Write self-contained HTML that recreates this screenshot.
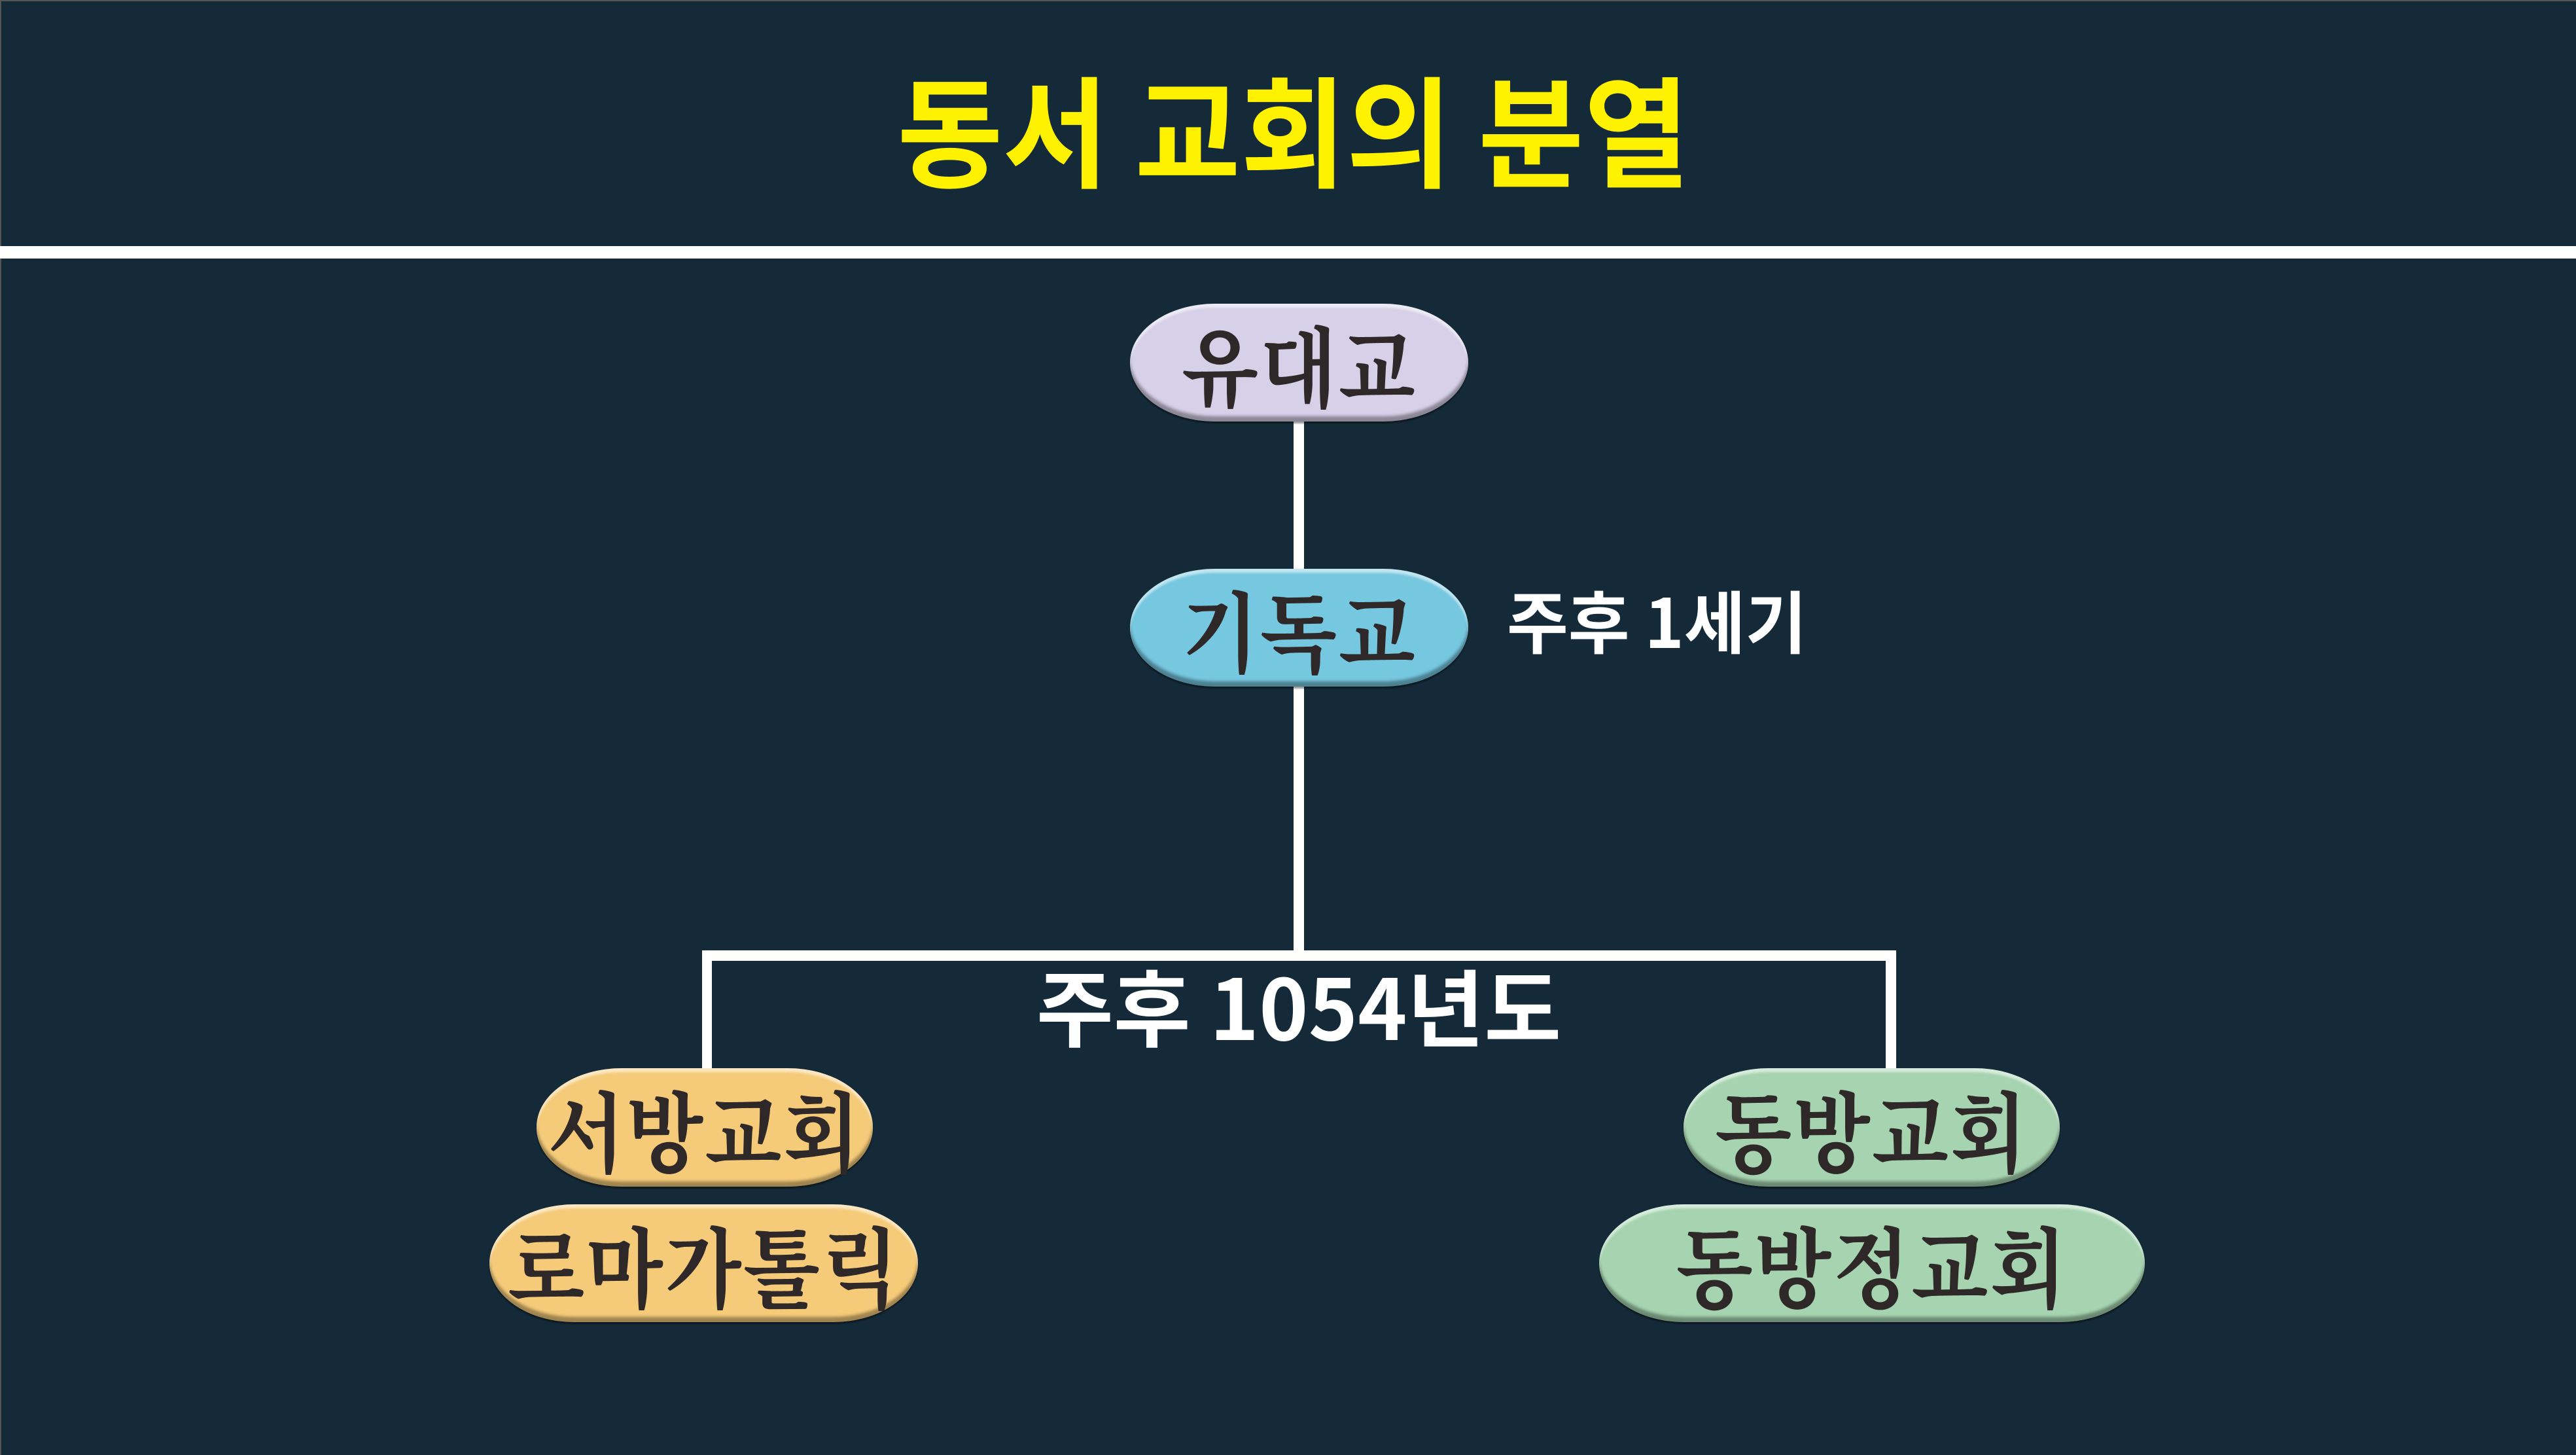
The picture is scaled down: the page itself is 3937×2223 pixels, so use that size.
<!DOCTYPE html>
<html><head><meta charset="utf-8"><style>
html,body{margin:0;padding:0}
body{width:3937px;height:2223px;background:#152a38;position:relative;overflow:hidden;font-family:"Liberation Sans","Noto Sans CJK KR",sans-serif}
.a{position:absolute}
.line{position:absolute;background:#fff}
.box{position:absolute;box-sizing:border-box;border-radius:130px/90px;display:flex;align-items:center;justify-content:center;
font-family:"Noto Serif CJK KR","Noto Serif CJK SC",serif;font-weight:700;font-size:122px;color:#2f2828;
box-shadow:inset 0 6px 3px rgba(255,255,255,.55),inset 0 -8px 4px rgba(0,0,0,.35),0 3px 2px rgba(0,0,0,.4);line-height:1}
.box span{display:inline-block;transform:scaleY(1.1);letter-spacing:2px}
.w{position:absolute;color:#fff;font-family:"Noto Sans CJK KR",sans-serif;font-weight:700;white-space:nowrap;line-height:1;transform-origin:left top}
</style></head><body>
<div class="a" style="left:0;top:0;width:3937px;height:2px;background:#555"></div>
<div class="a" style="left:0;top:0;width:2px;height:2223px;background:#555"></div>
<div class="w" style="left:1371px;top:100px;font-size:184px;color:#fff200;transform:scaleX(0.955)">동서 교회의 분열</div>
<div class="line" style="left:0;top:376px;width:3937px;height:19px"></div>

<div class="line" style="left:1977px;top:640px;width:16px;height:232px"></div>
<div class="line" style="left:1977px;top:1045px;width:16px;height:420px"></div>
<div class="line" style="left:1073px;top:1452px;width:1825px;height:16px"></div>
<div class="line" style="left:1073px;top:1452px;width:15px;height:182px"></div>
<div class="line" style="left:2882px;top:1452px;width:16px;height:182px"></div>

<div class="box" style="left:1727px;top:464px;width:517px;height:180px;background:#d6d0e8"><span>유대교</span></div>
<div class="box" style="left:1727px;top:869px;width:517px;height:180px;background:#76c7e0"><span>기독교</span></div>
<div class="w" style="left:2303px;top:893px;font-size:104px;transform:scaleX(0.98)">주후 1세기</div>
<div class="w" style="left:1584px;top:1470px;font-size:128px;transform:scaleX(1.0)">주후 1054년도</div>

<div class="box" style="left:820px;top:1632px;width:514px;height:181px;background:#f5cb7a"><span>서방교회</span></div>
<div class="box" style="left:748px;top:1840px;width:655px;height:180px;background:#f5cb7a"><span>로마가톨릭</span></div>
<div class="box" style="left:2573px;top:1632px;width:575px;height:181px;background:#a6d4b0"><span>동방교회</span></div>
<div class="box" style="left:2444px;top:1840px;width:834px;height:180px;background:#a6d4b0"><span>동방정교회</span></div>
</body></html>
